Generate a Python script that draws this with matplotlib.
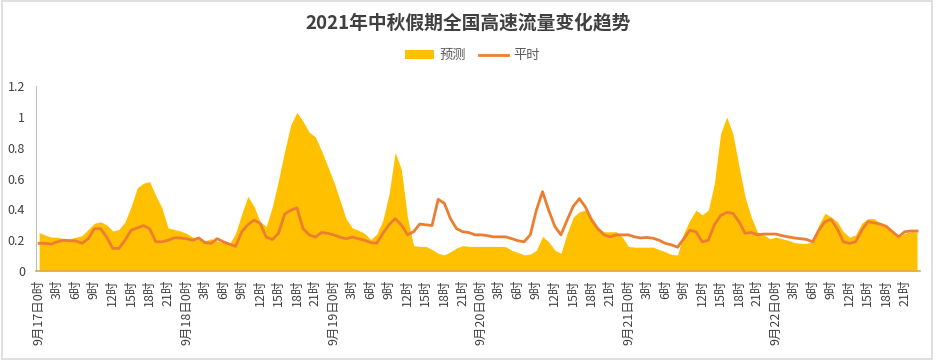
import matplotlib
matplotlib.use("Agg")
import matplotlib.pyplot as plt
from matplotlib.patches import Rectangle
import numpy as np

plt.rcParams['font.family'] = ['Noto Sans CJK SC', 'DejaVu Sans']

# hourly values, 9月17日0时 .. 9月22日23时
forecast = [
    # 17日
    0.25, 0.233, 0.22, 0.22, 0.21, 0.21, 0.22, 0.23, 0.27, 0.31, 0.32, 0.30,
    0.26, 0.27, 0.32, 0.42, 0.54, 0.57, 0.58, 0.49, 0.41, 0.28, 0.27, 0.26,
    # 18日
    0.245, 0.22, 0.21, 0.195, 0.21, 0.195, 0.185, 0.175, 0.245, 0.37, 0.485, 0.42,
    0.32, 0.29, 0.42, 0.59, 0.78, 0.95, 1.03, 0.97, 0.90, 0.87, 0.78, 0.68,
    # 19日
    0.58, 0.46, 0.34, 0.28, 0.265, 0.245, 0.205, 0.24, 0.33, 0.50, 0.77, 0.66,
    0.35, 0.165, 0.16, 0.16, 0.14, 0.115, 0.105, 0.125, 0.15, 0.165, 0.16, 0.16,
    # 20日
    0.16, 0.16, 0.16, 0.16, 0.158, 0.135, 0.12, 0.105, 0.11, 0.135, 0.225, 0.19,
    0.135, 0.115, 0.245, 0.35, 0.385, 0.395, 0.35, 0.285, 0.255, 0.255, 0.255, 0.22,
    # 21日
    0.16, 0.155, 0.155, 0.155, 0.155, 0.14, 0.125, 0.108, 0.105, 0.245, 0.33, 0.395,
    0.365, 0.395, 0.57, 0.89, 1.0, 0.89, 0.68, 0.48, 0.35, 0.255, 0.235, 0.21,
    # 22日
    0.22, 0.21, 0.20, 0.185, 0.18, 0.18, 0.19, 0.30, 0.375, 0.35, 0.32, 0.255,
    0.22, 0.235, 0.31, 0.34, 0.34, 0.31, 0.29, 0.255, 0.22, 0.245, 0.255, 0.255,
]

normal = [
    # 17日
    0.18, 0.18, 0.175, 0.19, 0.20, 0.197, 0.195, 0.18, 0.21, 0.275, 0.275, 0.22,
    0.147, 0.147, 0.20, 0.265, 0.28, 0.295, 0.275, 0.19, 0.19, 0.20, 0.215, 0.215,
    # 18日
    0.21, 0.20, 0.215, 0.185, 0.18, 0.21, 0.19, 0.175, 0.16, 0.255, 0.30, 0.33,
    0.31, 0.22, 0.205, 0.245, 0.37, 0.395, 0.41, 0.275, 0.235, 0.22, 0.25, 0.245,
    # 19日
    0.235, 0.22, 0.21, 0.22, 0.21, 0.20, 0.185, 0.18, 0.245, 0.30, 0.34, 0.30,
    0.235, 0.255, 0.305, 0.30, 0.295, 0.465, 0.44, 0.34, 0.275, 0.255, 0.25, 0.235,
    # 20日
    0.235, 0.23, 0.222, 0.222, 0.222, 0.21, 0.197, 0.19, 0.235, 0.395, 0.515, 0.395,
    0.29, 0.235, 0.33, 0.42, 0.47, 0.415, 0.33, 0.275, 0.235, 0.222, 0.235, 0.235,
    # 21日
    0.235, 0.222, 0.215, 0.218, 0.213, 0.20, 0.18, 0.17, 0.155, 0.21, 0.265, 0.255,
    0.19, 0.20, 0.30, 0.36, 0.38, 0.375, 0.32, 0.245, 0.25, 0.235, 0.24, 0.24,
    # 22日
    0.24, 0.23, 0.222, 0.215, 0.21, 0.205, 0.19, 0.265, 0.32, 0.335, 0.275, 0.19,
    0.18, 0.19, 0.265, 0.32, 0.313, 0.305, 0.29, 0.255, 0.222, 0.255, 0.26, 0.26,
]

days = [17, 18, 19, 20, 21, 22]
hours_per_day = 24
tick_step = 3
tick_labels = [f"9月{d}日0时" if h == 0 else f"{h}时"
               for d in days for h in range(0, hours_per_day, tick_step)]
title = "2021年中秋假期全国高速流量变化趋势"
series_names = ["预测", "平时"]

x = np.arange(len(forecast))
tick_pos = np.arange(0, len(forecast), tick_step)

fig = plt.figure(figsize=(9.36, 3.6), dpi=100)
fig.patches.append(Rectangle((0.002, 0.004), 0.994, 0.992, transform=fig.transFigure,
                             fill=False, edgecolor="#d9d9d9", linewidth=1.2))
ax = fig.add_axes([0.0385, 0.247, 0.9445, 0.514])

ax.fill_between(x, forecast, 0, color="#FFC000", linewidth=0, label=series_names[0])
ax.plot(x, normal, color="#ED7D31", linewidth=2.0, label=series_names[1])

ax.set_xlim(-0.5, len(forecast) - 0.5)
ax.set_ylim(0, 1.2)
ax.set_yticks([0, 0.2, 0.4, 0.6, 0.8, 1.0, 1.2])
ax.set_yticklabels(["0", "0.2", "0.4", "0.6", "0.8", "1", "1.2"])
ax.set_xticks(tick_pos)
ax.set_xticklabels(tick_labels, rotation=90, fontsize=9, color="#404040")
ax.tick_params(axis="y", length=0, labelsize=9, labelcolor="#404040", pad=8)
ax.tick_params(axis="x", length=0, pad=6)

for s in ["top", "right"]:
    ax.spines[s].set_visible(False)
ax.spines["left"].set_color("#bfbfbf")
ax.spines["bottom"].set_color("#E0A84A")
ax.spines["bottom"].set_linewidth(1.2)

fig.text(0.5, 0.935, title, ha="center", va="center", fontsize=13.5,
         fontweight="bold", color="#404040")
fig.legend(loc="center", bbox_to_anchor=(0.505, 0.845), ncol=2, frameon=False,
           fontsize=9.5, labelcolor="#595959", handlelength=2.2, handletextpad=0.4,
           columnspacing=1.0)

fig.savefig("out.png", dpi=100)
